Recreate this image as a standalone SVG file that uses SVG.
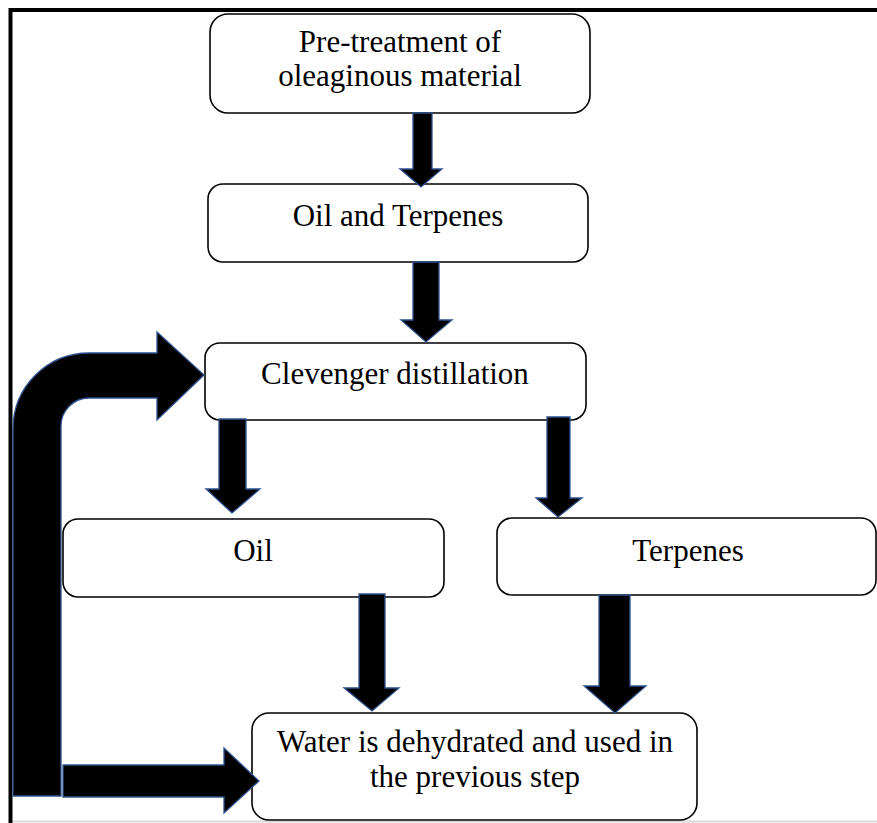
<svg xmlns="http://www.w3.org/2000/svg" width="877" height="823" viewBox="0 0 877 823">
<style>
.box{fill:#fff;stroke:#000;stroke-width:1.6}
.lbl{font-family:"Liberation Serif","Times New Roman",serif;font-size:31px;fill:#000;text-anchor:middle}
.arr{fill:#000;stroke:#2F528F;stroke-width:1.3;stroke-linejoin:miter}
</style>
<rect x="0" y="0" width="877" height="823" fill="#fff"/>
<g id="frame">
<path d="M10.5,823 V10 H877" fill="none" stroke="#000" stroke-width="4"/>
<line x1="13" y1="821.5" x2="877" y2="821.5" stroke="#d9d9d9" stroke-width="2"/>
</g>
<g id="n1">
<rect class="box" x="210" y="14" width="380" height="99" rx="18"/>
<text class="lbl" x="400" y="52">Pre-treatment of</text>
<text class="lbl" x="400" y="86">oleaginous material</text>
</g>
<g id="n2">
<rect class="box" x="208" y="184" width="380" height="78" rx="15"/>
<text class="lbl" x="398" y="226">Oil and Terpenes</text>
</g>
<g id="n3">
<rect class="box" x="205" y="343" width="381" height="77" rx="15"/>
<text class="lbl" x="395" y="384">Clevenger distillation</text>
</g>
<g id="n4">
<rect class="box" x="63" y="519" width="381" height="78" rx="15"/>
<text class="lbl" x="253" y="561">Oil</text>
</g>
<g id="n5">
<rect class="box" x="497" y="518" width="379" height="77" rx="15"/>
<text class="lbl" x="688" y="561">Terpenes</text>
</g>
<g id="n6">
<rect class="box" x="252" y="713" width="445" height="107" rx="17"/>
<text class="lbl" x="475" y="752">Water is dehydrated and used in</text>
<text class="lbl" x="475" y="787">the previous step</text>
</g>
<g id="connectors">
<path class="arr" d="M413,113 H432 V169 H442 L421,187 L400,169 H413 Z"/>
<path class="arr" d="M413,262 H439 V320 H452 L426,342 L401,320 H413 Z"/>
<path class="arr" d="M219,419 H246 V489 H260 L232,513 L206,489 H219 Z"/>
<path class="arr" d="M547,417 H570 V498 H582 L558,517 L536,498 H547 Z"/>
<path class="arr" d="M359,594 H385 V688 H399 L372,711 L344,688 H359 Z"/>
<path class="arr" d="M599,595 H630 V686 H646 L615,713 L584,686 H599 Z"/>
<path class="arr" d="M13,796 V429 A76,76 0 0 1 89,353 H157 V332 L204,375 L157,420 V398 H89 A28,28 0 0 0 61,426 V796 Z"/>
<path class="arr" d="M63,765 H224 V748 L259,781 L224,813 V797 H63 Z"/>
</g>
</svg>
